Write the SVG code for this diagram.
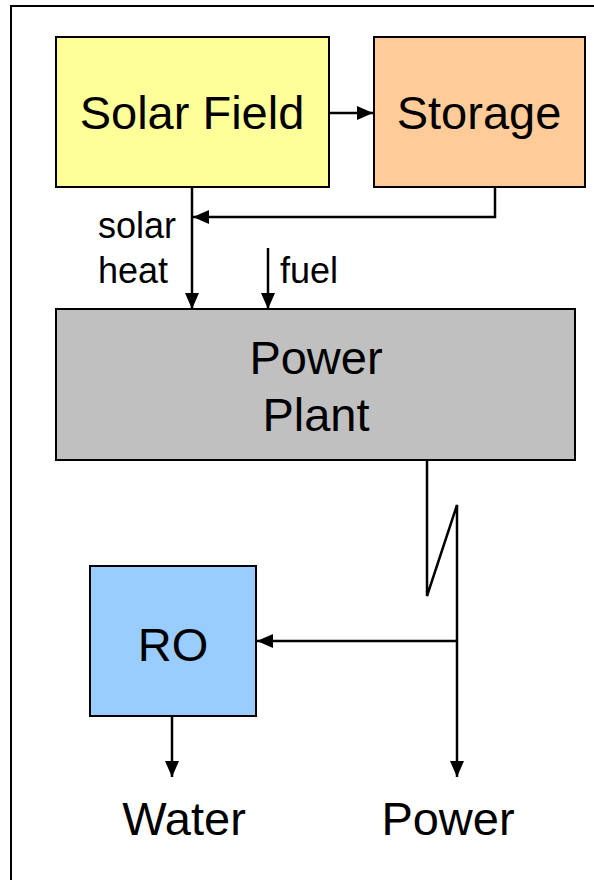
<svg xmlns="http://www.w3.org/2000/svg" width="594" height="880" viewBox="0 0 594 880">
<style>
.box{stroke:#000;stroke-width:2}
.t{font-family:"Liberation Sans",Arial,sans-serif;fill:#000;text-anchor:middle}
.big{font-size:47px}
.small{font-size:36px}
.ln{fill:none;stroke:#000;stroke-width:2.5}
</style>
<defs>
<marker id="ah" markerUnits="userSpaceOnUse" markerWidth="16" markerHeight="14" refX="16" refY="7" orient="auto" style="overflow:visible">
<path d="M0,0 L16,7 L0,14 Z" fill="#000"/>
</marker>
</defs>
<rect x="11" y="6" width="600" height="900" fill="#fff" stroke="#000" stroke-width="2"/>
<g id="solar-field"><rect class="box" x="56" y="37" width="273" height="150" fill="#ffff99"/><text class="t big" x="192" y="129">Solar Field</text></g>
<g id="storage"><rect class="box" x="374" y="37" width="211" height="150" fill="#ffcc99"/><text class="t big" x="479" y="129">Storage</text></g>
<g id="power-plant"><rect class="box" x="56" y="309" width="519" height="151" fill="#c0c0c0"/><text class="t big" x="316" y="374">Power</text><text class="t big" x="316" y="431">Plant</text></g>
<g id="ro"><rect class="box" x="90" y="566" width="166" height="150" fill="#99ccff"/><text class="t big" x="173" y="661">RO</text></g>
<g id="labels">
<text class="t small" x="98" y="238" style="text-anchor:start">solar</text>
<text class="t small" x="98" y="283" style="text-anchor:start">heat</text>
<text class="t small" x="280" y="283" style="text-anchor:start">fuel</text>
<text class="t big" x="184" y="835">Water</text>
<text class="t big" x="448" y="835">Power</text>
</g>
<g id="connectors">
<path class="ln" d="M329,113 H373" marker-end="url(#ah)"/>
<path class="ln" d="M192,187 V309" marker-end="url(#ah)"/>
<path class="ln" d="M495,187 V217 H193" marker-end="url(#ah)"/>
<path class="ln" d="M268,248 V309" marker-end="url(#ah)"/>
<path class="ln" d="M427,460 V596 L457,505 V777" marker-end="url(#ah)" style="stroke-linejoin:miter"/>
<path class="ln" d="M457,641 H257" marker-end="url(#ah)"/>
<path class="ln" d="M172,716 V777" marker-end="url(#ah)"/>
</g>
</svg>
